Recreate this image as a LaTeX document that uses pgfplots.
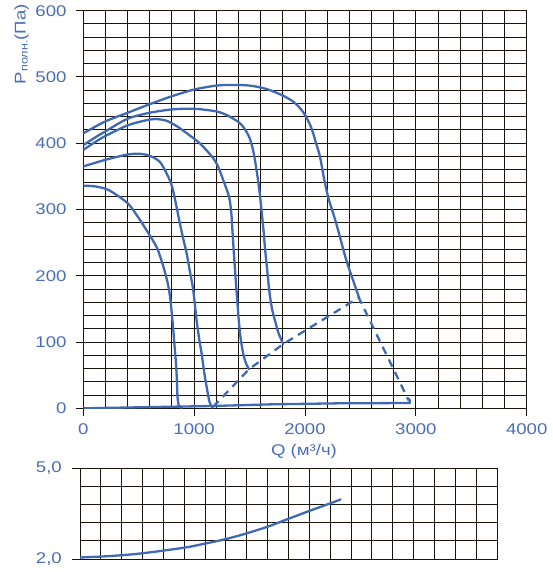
\documentclass[border=0pt]{standalone}
\usepackage{fontspec}
\setmainfont{Liberation Sans}[FakeStretch=1.2]
\usepackage{pgfplots}
\pgfplotsset{compat=1.18}
\definecolor{txtblue}{RGB}{74,110,181}
\definecolor{lineblue}{RGB}{63,105,180}
\definecolor{gridc}{RGB}{28,19,9}
\newcommand{\lblfont}{\fontsize{15.5}{16}\selectfont}
\begin{document}
\begin{tikzpicture}
\path[use as bounding box] (0pt,0pt) rectangle (552pt,-572pt);
\begin{axis}[
  at={(83.3pt,-408.3pt)}, anchor=south west, scale only axis,
  width=443.4pt, height=397.6pt,
  xmin=0, xmax=4000, ymin=0, ymax=600,
  xtick={0,1000,2000,3000,4000}, xticklabels={0,1000,2000,3000,4000},
  ytick={0,100,200,300,400,500,600}, yticklabels={0,100,200,300,400,500,600},
  minor xtick={0,200,...,4000}, minor ytick={0,20,...,600},
  grid=both,
  major grid style={gridc, line width=1pt},
  minor grid style={gridc, line width=1pt},
  axis line style={gridc, line width=1pt},
  tick align=outside, major tick length=7.3pt, minor tick length=0pt,
  xtick pos=bottom, ytick pos=left,
  major tick style={gridc, line width=1pt},
  ticklabel style={font=\lblfont, text=txtblue},
  yticklabel style={inner xsep=0pt, xshift=-9.3pt},
  xticklabel style={inner ysep=0pt, yshift=-7.4pt},
  every axis plot/.append style={lineblue, line width=2.3pt, line join=round, line cap=round},
]
% Curve A
\addplot[smooth, tension=0.5] coordinates {(0,415) (200,433) (400,446) (600,459) (800,471) (1000,481) (1200,487) (1350,488) (1500,487) (1650,482) (1800,472) (1900,462) (1960,452) (2010,440) (2060,422) (2100,400) (2135,380) (2170,348) (2210,318) (2280,280) (2370,225) (2430,195) (2490,166)};
% Curve B
\addplot[smooth, tension=0.5] coordinates {(0,397) (100,408) (200,418) (400,437) (600,446) (800,451) (1000,452) (1200,448) (1300,442) (1400,432) (1450,423) (1500,408) (1535,387) (1565,357) (1590,327) (1610,295) (1625,270) (1640,240) (1655,215) (1670,190) (1685,168) (1705,148) (1730,132) (1760,114) (1790,102) (1804,97)};
% Curve C
\addplot[smooth, tension=0.5] coordinates {(0,390) (100,401) (200,411) (400,427) (550,434) (650,436.5) (750,434) (850,425) (950,413) (1050,400) (1150,382) (1210,367) (1263,344) (1315,319) (1335,295) (1345,269) (1360,230) (1375,194) (1390,160) (1405,128) (1420,105) (1443,82) (1470,67) (1495,59)};
% Curve D
\addplot[smooth, tension=0.5] coordinates {(0,365) (200,375) (400,383) (510,384) (600,381) (690,372) (750,355) (790,340) (815,325) (840,305) (870,280) (900,257) (932,234) (960,208) (992,178) (1022,133) (1045,105) (1068,82) (1090,55) (1113,32) (1135,12) (1150,5) (1167,1)};
% Curve E
\addplot[smooth, tension=0.5] coordinates {(0,336) (100,335) (207,331) (300,322) (409,308) (500,287) (607,259) (670,240) (722,214) (760,190) (782,169) (800,140) (812,118) (825,90) (836,68) (845,40) (850,17) (860,5) (875,1.5) (890,1)};
% Base line
\addplot[sharp plot] coordinates {(0,0) (500,1.5) (1170,3.5) (1700,6) (2300,7.5) (2945,8) (2943,14)};
% Dashed operating boundary
\addplot[sharp plot, dash pattern=on 8pt off 6pt, line cap=butt] coordinates {(1170,2) (1495,59) (1804,97) (2485,167) (2935,12)};
\end{axis}
\begin{axis}[
  at={(80pt,-559pt)}, anchor=south west, scale only axis,
  width=417pt, height=90.7pt,
  xmin=0, xmax=4000, ymin=2, ymax=5,
  xtick={0,200,...,4000}, xticklabels={},
  ytick={2,5}, yticklabels={{2,0},{5,0}},
  minor ytick={2.6,3.2,3.8,4.4},
  grid=both,
  major grid style={gridc, line width=1pt},
  minor grid style={gridc, line width=1pt},
  axis line style={gridc, line width=1pt},
  tick align=outside, major tick length=8pt, minor tick length=0pt,
  ytick pos=left, xtick pos=bottom,
  xtick style={draw=none},
  ytick style={gridc, line width=1pt},
  ticklabel style={font=\lblfont, text=txtblue},
  yticklabel style={inner xsep=0pt, xshift=-10pt},
]
\addplot[smooth, tension=0.5, lineblue, line width=2.3pt, line cap=round] coordinates {(0,2.05) (300,2.1) (600,2.19) (1000,2.375) (1200,2.51) (1400,2.66) (1600,2.85) (1800,3.07) (2000,3.33) (2200,3.59) (2400,3.84) (2500,3.97)};
\end{axis}
\node[rotate=90, anchor=base east, inner sep=0pt, text=txtblue, font=\lblfont] at (25.5pt,-4pt) {P\raisebox{-2pt}{\fontsize{10.5}{10.5}\selectfont полн.}(Па)};
\node[anchor=base, inner sep=0pt, text=txtblue, font=\lblfont] at (304pt,-455pt) {Q (м³/ч)};
\end{tikzpicture}
\end{document}
